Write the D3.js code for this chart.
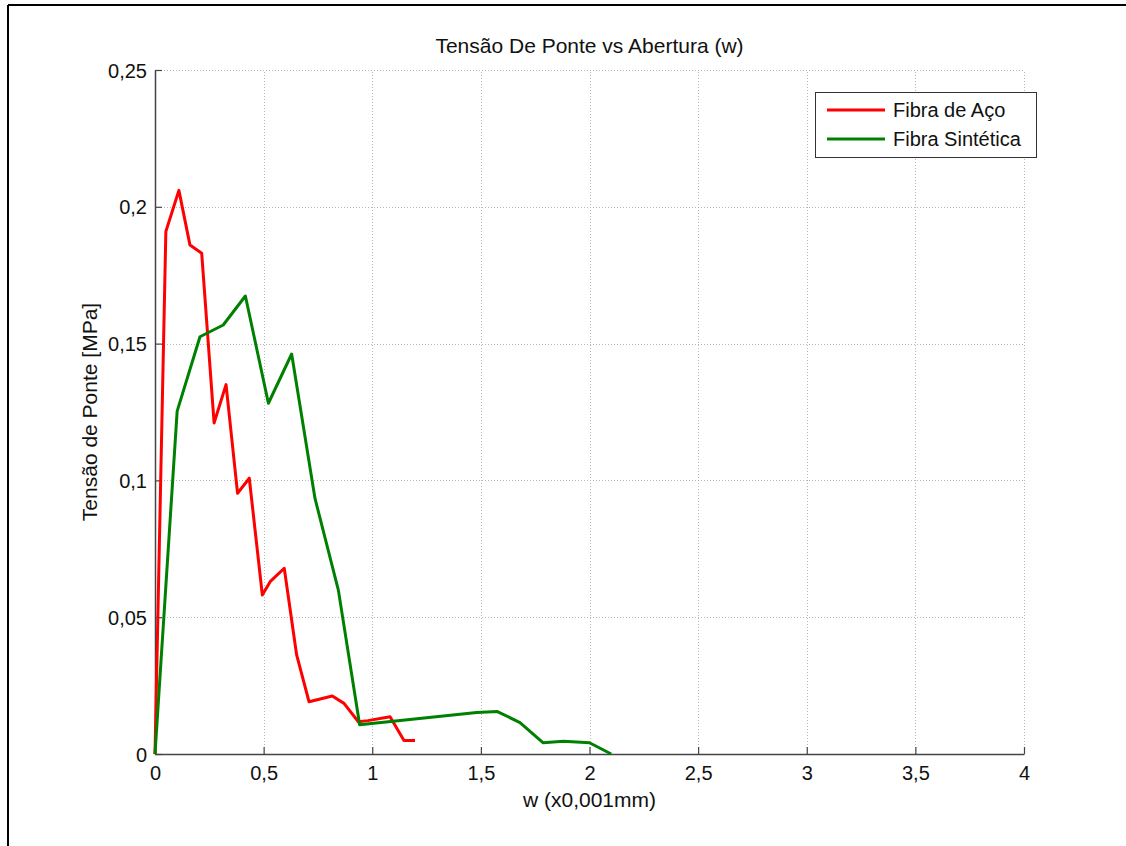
<!DOCTYPE html>
<html>
<head>
<meta charset="utf-8">
<script src="https://cdn.jsdelivr.net/npm/d3@7"></script>
<style>
  html, body { margin: 0; padding: 0; background: #fff; overflow: hidden; }
  svg { display: block; font-family: "Liberation Sans", Arial, sans-serif; }
</style>
</head>
<body>
<svg id="chart" width="1126" height="846"></svg>
<script>
// Bridging stress vs crack opening, two fibre types
const steelW = [0, 0.05, 0.11, 0.161, 0.215, 0.272, 0.327, 0.380, 0.434, 0.494, 0.53, 0.595, 0.652, 0.709, 0.816, 0.870, 0.936, 0.98, 1.082, 1.146, 1.197];
const steelS = [0, 0.191, 0.206, 0.186, 0.183, 0.121, 0.135, 0.0953, 0.1008, 0.0581, 0.063, 0.0679, 0.0362, 0.0191, 0.0212, 0.0185, 0.0118, 0.0122, 0.0136, 0.0049, 0.0049];

const synthW = [0, 0.102, 0.207, 0.314, 0.416, 0.522, 0.629, 0.7365, 0.844, 0.942, 1.481, 1.576, 1.680, 1.787, 1.880, 2.0, 2.10];
const synthS = [0, 0.1253, 0.1525, 0.1568, 0.1674, 0.1282, 0.1462, 0.0934, 0.0599, 0.0107, 0.0152, 0.0155, 0.0115, 0.0041, 0.0047, 0.0041, 0];

const xTicks = [0, 0.5, 1, 1.5, 2, 2.5, 3, 3.5, 4];
const yTicks = [0, 0.05, 0.1, 0.15, 0.2, 0.25];
const seriesNames = ["Fibra de Aço", "Fibra Sintética"];
const seriesColors = ["#ff0000", "#008000"];

const titleText = "Tensão De Ponte vs Abertura (w)";
const xLabel = "w (x0,001mm)";
const yLabel = "Tensão de Ponte [MPa]";

const svg = d3.select("#chart");
const margin = { left: 155, top: 70, right: 1024, bottom: 754 };
const FONT = "'Liberation Sans', Arial, sans-serif";

// outer frame (top and left edges)
svg.append("line").attr("x1", 8).attr("x2", 1126).attr("y1", 5).attr("y2", 5)
  .attr("stroke", "#000").attr("stroke-width", 2);
svg.append("line").attr("x1", 8).attr("x2", 8).attr("y1", 5).attr("y2", 846)
  .attr("stroke", "#000").attr("stroke-width", 2);

const x = d3.scaleLinear().domain([0, 4]).range([margin.left, margin.right]);
const y = d3.scaleLinear().domain([0, 0.25]).range([margin.bottom, margin.top]);

const fmt = d => d3.format("")(d).replace(".", ",");

// grid
const grid = svg.append("g").attr("stroke", "#b8b8b8").attr("stroke-width", 1).attr("stroke-dasharray", "1,2");
grid.selectAll("line.v").data(xTicks.filter(d => d > 0)).join("line")
  .attr("x1", d => Math.round(x(d)) + 0.5).attr("x2", d => Math.round(x(d)) + 0.5)
  .attr("y1", y(0)).attr("y2", y(0.25));
grid.selectAll("line.h").data(yTicks.filter(d => d > 0)).join("line")
  .attr("y1", d => Math.round(y(d)) + 0.5).attr("y2", d => Math.round(y(d)) + 0.5)
  .attr("x1", x(0)).attr("x2", x(4));

// axes (ticks pointing inward)
const xAxis = svg.append("g")
  .attr("transform", `translate(0,${y(0)})`)
  .call(d3.axisBottom(x).tickValues(xTicks).tickFormat(fmt).tickSizeInner(-7).tickSizeOuter(0).tickPadding(12));
const yAxis = svg.append("g")
  .attr("transform", `translate(${x(0)},0)`)
  .call(d3.axisLeft(y).tickValues(yTicks).tickFormat(fmt).tickSizeInner(-7).tickSizeOuter(0).tickPadding(8));

[xAxis, yAxis].forEach(a => {
  a.attr("font-size", null).attr("font-family", null);
  a.select(".domain").attr("stroke", "#444").attr("stroke-width", 1.5);
  a.selectAll(".tick line").attr("stroke", "#444").attr("stroke-width", 1.2);
  a.selectAll(".tick text").attr("fill", "#111")
    .attr("font-size", 20).attr("font-family", FONT);
});
yAxis.selectAll(".tick text").attr("dy", "0.35em");

// series
const line = d3.line().x(d => x(d[0])).y(d => y(d[1]));
const series = [
  d3.zip(steelW, steelS),
  d3.zip(synthW, synthS)
];
svg.append("g").selectAll("path").data(series).join("path")
  .attr("d", line)
  .attr("fill", "none")
  .attr("stroke", (d, i) => seriesColors[i])
  .attr("stroke-width", 3)
  .attr("stroke-linejoin", "round");

// title and labels
svg.append("text").attr("x", (x(0) + x(4)) / 2).attr("y", 53)
  .attr("text-anchor", "middle").attr("font-size", 21).attr("font-family", FONT).attr("fill", "#111").text(titleText);
svg.append("text").attr("x", (x(0) + x(4)) / 2).attr("y", 807)
  .attr("text-anchor", "middle").attr("font-size", 21).attr("font-family", FONT).attr("fill", "#111").text(xLabel);
svg.append("text")
  .attr("transform", `translate(97,${(y(0) + y(0.25)) / 2}) rotate(-90)`)
  .attr("text-anchor", "middle").attr("font-size", 21).attr("font-family", FONT).attr("fill", "#111").text(yLabel);

// legend
const lg = svg.append("g").attr("transform", "translate(815,92)");
lg.append("rect").attr("x", 0.5).attr("y", 0.5).attr("width", 221).attr("height", 65)
  .attr("fill", "#fff").attr("stroke", "#333").attr("stroke-width", 1);
seriesNames.forEach((name, i) => {
  const ly = 18 + i * 29;
  lg.append("line").attr("x1", 12).attr("x2", 70).attr("y1", ly).attr("y2", ly)
    .attr("stroke", seriesColors[i]).attr("stroke-width", 3);
  lg.append("text").attr("x", 78).attr("y", ly + 7).attr("font-size", 20)
    .attr("font-family", FONT).attr("fill", "#111").text(name);
});
</script>
</body>
</html>
